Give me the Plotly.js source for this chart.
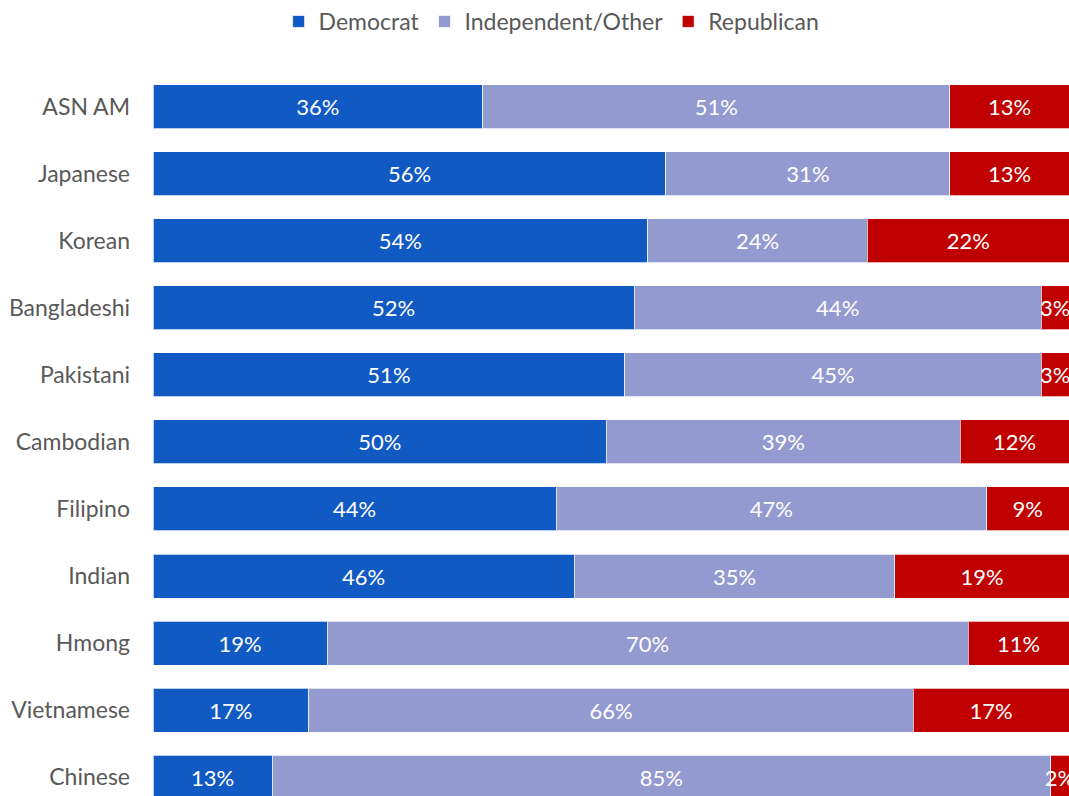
<!DOCTYPE html>
<html>
<head>
<meta charset="utf-8">
<script src="https://cdn.plot.ly/plotly-3.0.1.min.js"></script>
<style>html,body{margin:0;padding:0;background:#fff;}#chart{width:1069px;height:796px;}</style>
</head>
<body>
<div id="chart"></div>
<script>
const categories = ["ASN AM","Japanese","Korean","Bangladeshi","Pakistani","Cambodian","Filipino","Indian","Hmong","Vietnamese","Chinese"];
const democrat = [36,56,54,52,51,50,44,46,19,17,13];
const independent = [51,31,24,44,45,39,47,35,70,66,85];
const republican = [13,13,22,3,3,12,9,19,11,17,2];
const seriesNames = ["Democrat","Independent/Other","Republican"];
const colors = ["#115AC4","#939ACF","#C00000"];

const vals = [democrat, independent, republican];
const traces = vals.map((v,i)=>({
  type:'bar', orientation:'h', name:seriesNames[i],
  x:v, y:categories, text:v.map(String),
  marker:{color:colors[i], line:{color:'rgba(255,255,255,0.7)', width:1}},
  texttemplate:'%{text}%', textposition:'inside', insidetextanchor:'middle', textangle:0,
  textfont:{color:'#ffffff', size:22, family:'Lato, sans-serif'},
  hoverinfo:'text+y+name'
}));

const layout = {
  width:1069, height:796,
  barmode:'stack', barnorm:'percent', bargap:0.344,
  margin:{l:153, r:0, t:72.5, b:0, pad:0},
  paper_bgcolor:'#fff', plot_bgcolor:'#fff',
  font:{family:'Lato, sans-serif', size:23, color:'#595959'},
  uniformtext:{mode:'show', minsize:22},
  xaxis:{range:[0,100], showgrid:false, zeroline:false, showticklabels:false, visible:false, fixedrange:true},
  yaxis:{type:'category', categoryorder:'array', categoryarray:categories, range:[10.28,-0.5],
         showgrid:false, zeroline:false, showline:false, ticks:'', ticklabelstandoff:22,
         tickfont:{size:23, color:'#595959'}},
  legend:{orientation:'h', xref:'container', yref:'container', x:0.516, xanchor:'center', y:1.0, yanchor:'top',
          font:{size:23, color:'#595959'}, itemwidth:30, tracegroupgap:0, traceorder:'normal'},
  showlegend:true
};
Plotly.newPlot('chart', traces, layout, {displayModeBar:false, staticPlot:true});
</script>
</body>
</html>
